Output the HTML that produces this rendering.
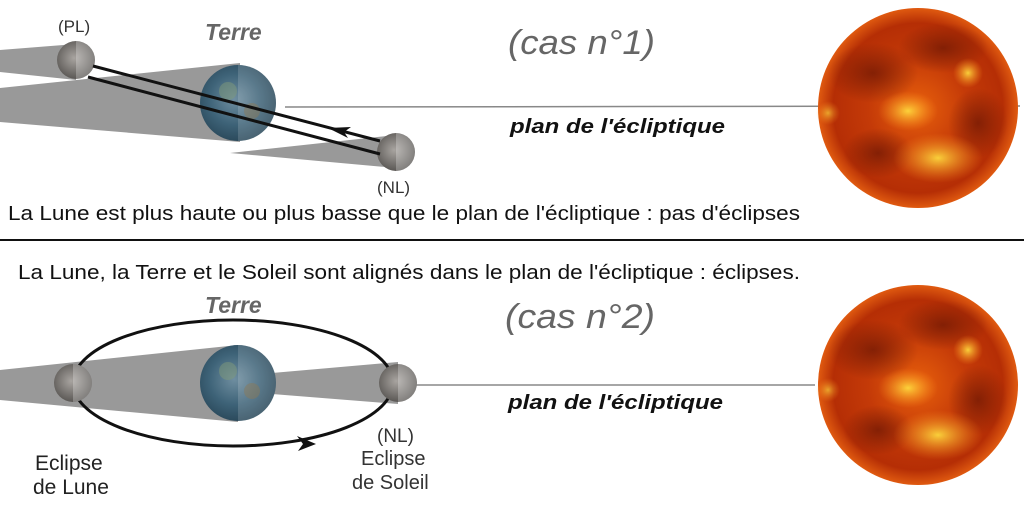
<!DOCTYPE html>
<html><head><meta charset="utf-8"><style>
html,body{margin:0;padding:0;background:#fff;width:1024px;height:512px;overflow:hidden}
svg{display:block}
</style></head><body>
<svg width="1024" height="512" viewBox="0 0 1024 512" xmlns="http://www.w3.org/2000/svg" font-family="Liberation Sans, sans-serif">
<defs>
<radialGradient id="sun" cx="50%" cy="50%" r="50%">
<stop offset="0" stop-color="#e8600c"/>
<stop offset="0.5" stop-color="#c43a08"/>
<stop offset="0.85" stop-color="#b52e05"/>
<stop offset="1" stop-color="#e05a10"/>
</radialGradient>
<radialGradient id="glow" cx="50%" cy="50%" r="50%">
<stop offset="0" stop-color="#ffe040" stop-opacity="0.9"/>
<stop offset="1" stop-color="#ff9020" stop-opacity="0"/>
</radialGradient>
<radialGradient id="dark" cx="50%" cy="50%" r="50%">
<stop offset="0" stop-color="#6a1604" stop-opacity="0.7"/>
<stop offset="1" stop-color="#6a1604" stop-opacity="0"/>
</radialGradient>
<radialGradient id="earth" cx="45%" cy="45%" r="55%">
<stop offset="0" stop-color="#6f8ea0"/>
<stop offset="0.6" stop-color="#3e6378"/>
<stop offset="1" stop-color="#2b4a5c"/>
</radialGradient>
<radialGradient id="moon" cx="45%" cy="45%" r="55%">
<stop offset="0" stop-color="#a8a4a0"/>
<stop offset="1" stop-color="#5a5754"/>
</radialGradient>
<g id="sunG">
<circle r="100" fill="url(#sun)"/>
<ellipse cx="-45" cy="-35" rx="45" ry="30" fill="url(#dark)"/>
<ellipse cx="25" cy="-60" rx="45" ry="25" fill="url(#dark)"/>
<ellipse cx="60" cy="15" rx="30" ry="35" fill="url(#dark)"/>
<ellipse cx="-40" cy="45" rx="35" ry="25" fill="url(#dark)"/>
<ellipse cx="-10" cy="3" rx="30" ry="20" fill="url(#glow)"/>
<ellipse cx="20" cy="50" rx="45" ry="25" fill="url(#glow)"/>
<circle cx="50" cy="-35" r="15" fill="url(#glow)"/>
<circle cx="-90" cy="5" r="12" fill="url(#glow)" opacity="0.7"/>
</g>
<g id="earthG">
<circle r="38" fill="url(#earth)"/>
<path d="M0,-38 A38,38 0 0 1 0,38 Z" fill="#fff" opacity="0.15"/>
<circle cx="-10" cy="-12" r="9" fill="#7f9a7a" opacity="0.5"/>
<circle cx="14" cy="8" r="8" fill="#8a7a5a" opacity="0.5"/>
</g>
<g id="moonG">
<circle r="19" fill="url(#moon)"/>
<path d="M0,-19 A19,19 0 0 1 0,19 Z" fill="#fff" opacity="0.25"/>
</g>
</defs>

<!-- TOP -->
<line x1="285" y1="107" x2="1020" y2="106" stroke="#888" stroke-width="1.5"/>
<polygon points="0,50 76,44 76,80 0,72" fill="#999"/>
<polygon points="0,88 240,63 240,142 0,122" fill="#999"/>
<polygon points="230,153 396,135 396,168" fill="#999"/>
<use href="#earthG" x="238" y="103"/>
<use href="#moonG" x="76" y="60"/>
<use href="#moonG" x="396" y="152"/>
<line x1="93" y1="66" x2="380" y2="141" stroke="#111" stroke-width="3"/>
<line x1="88" y1="77" x2="380" y2="154" stroke="#111" stroke-width="3"/>
<polygon points="328,128 351,127 344,132 348,138" fill="#111"/>
<use href="#sunG" x="918" y="108"/>
<text x="58" y="32" font-size="17" fill="#333">(PL)</text>
<text x="377" y="193" font-size="17" fill="#333">(NL)</text>
<text x="205" y="40" font-size="23" font-weight="bold" font-style="italic" fill="#666">Terre</text>
<text x="508" y="54" font-size="34" font-style="italic" fill="#666" textLength="147" lengthAdjust="spacingAndGlyphs">(cas n°1)</text>
<text x="510" y="133" font-size="20" font-weight="bold" font-style="italic" fill="#111" textLength="215" lengthAdjust="spacingAndGlyphs">plan de l'écliptique</text>
<text x="8" y="220" font-size="20" fill="#111" textLength="792" lengthAdjust="spacingAndGlyphs">La Lune est plus haute ou plus basse que le plan de l'écliptique : pas d'éclipses</text>
<line x1="0" y1="240" x2="1024" y2="240" stroke="#111" stroke-width="2"/>

<!-- BOTTOM -->
<text x="18" y="279" font-size="20" fill="#111" textLength="782" lengthAdjust="spacingAndGlyphs">La Lune, la Terre et le Soleil sont alignés dans le plan de l'écliptique : éclipses.</text>
<line x1="415" y1="385" x2="815" y2="385" stroke="#888" stroke-width="1.5"/>
<polygon points="0,370 238,345 238,422 0,400" fill="#999"/>
<polygon points="272,373 398,362 398,404 272,394" fill="#999"/>
<ellipse cx="233" cy="383" rx="160" ry="63" fill="none" stroke="#111" stroke-width="3"/>
<polygon points="297,436 316,444 298,451 303,444" fill="#111"/>
<use href="#earthG" x="238" y="383"/>
<use href="#moonG" x="73" y="383"/>
<use href="#moonG" x="398" y="383"/>
<use href="#sunG" x="918" y="385"/>
<text x="205" y="313" font-size="23" font-weight="bold" font-style="italic" fill="#666">Terre</text>
<text x="505" y="328" font-size="34" font-style="italic" fill="#666" textLength="150" lengthAdjust="spacingAndGlyphs">(cas n°2)</text>
<text x="508" y="409" font-size="20" font-weight="bold" font-style="italic" fill="#111" textLength="215" lengthAdjust="spacingAndGlyphs">plan de l'écliptique</text>
<text x="35" y="470" font-size="21" fill="#222">Eclipse</text>
<text x="33" y="494" font-size="21" fill="#222">de Lune</text>
<text x="377" y="442" font-size="19" fill="#333">(NL)</text>
<text x="361" y="465" font-size="20" fill="#333">Eclipse</text>
<text x="352" y="489" font-size="20" fill="#333">de Soleil</text>
</svg>
</body></html>
